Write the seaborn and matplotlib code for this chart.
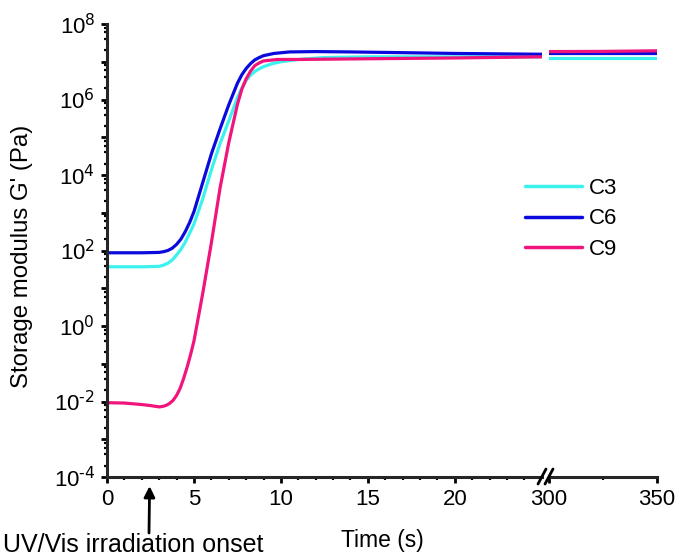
import numpy as np
import pandas as pd
import matplotlib
matplotlib.use("Agg")
import matplotlib.pyplot as plt
import matplotlib.ticker as mticker
from matplotlib.lines import Line2D
import seaborn as sns

sns.set_style("ticks")
plt.rcParams["font.family"] = ["Liberation Sans", "DejaVu Sans"]
plt.rcParams["mathtext.default"] = "regular"
plt.rcParams["axes.unicode_minus"] = False
plt.rcParams["text.color"] = "black"

# --- data: storage modulus G' (Pa) vs time (s) ---
# early part (0-25 s)
t_c3 = [0, 1, 2, 3, 3.25, 3.5, 3.75, 4, 4.25, 4.5, 5, 5.5, 6, 6.5, 7, 7.5, 7.75, 8, 8.25,
        8.5, 8.75, 9, 9.5, 10, 11, 12.5, 15, 20, 25]
g_c3 = [37, 37, 37, 38, 41, 46, 56, 76, 107, 166, 500, 2.3e3, 1.35e4, 6.8e4, 2.7e5, 1.12e6,
        2.0e6, 3.2e6, 4.4e6, 5.5e6, 6.5e6, 7.4e6, 8.9e6, 1.0e7, 1.15e7, 1.29e7, 1.35e7,
        1.35e7, 1.35e7]

t_c6 = [0, 1, 2, 3, 3.25, 3.5, 3.75, 4, 4.25, 4.5, 4.75, 5, 5.5, 6, 6.5, 7, 7.5, 7.75, 8,
        8.25, 8.5, 8.75, 9, 9.6, 10.5, 12, 14, 17, 20, 25]
g_c6 = [87, 87, 87, 89, 93, 100, 115, 145, 200, 316, 550, 1.07e3, 6.2e3, 3.6e4, 1.66e5,
        7.2e5, 2.7e6, 4.5e6, 6.6e6, 8.9e6, 1.12e7, 1.29e7, 1.45e7, 1.66e7, 1.82e7, 1.86e7,
        1.82e7, 1.74e7, 1.66e7, 1.58e7]

t_c9 = [0, 1, 2, 2.5, 3, 3.2, 3.4, 3.6, 3.8, 4, 4.2, 4.4, 4.6, 4.8, 5, 5.5, 6, 6.5, 7, 7.5,
        7.75, 8, 8.25, 8.5, 8.75, 9, 9.8, 11, 15, 20, 25]
g_c9 = [9.3e-3, 9.1e-3, 8.3e-3, 7.8e-3, 7.2e-3, 7.4e-3, 7.9e-3, 8.9e-3, 1.07e-2, 1.45e-2,
        2.2e-2, 4.0e-2, 7.9e-2, 0.17, 0.40, 7.1, 158, 4.5e3, 7.1e4, 7.4e5, 1.86e6, 3.5e6,
        5.6e6, 7.9e6, 9.3e6, 1.05e7, 1.15e7, 1.15e7, 1.2e7, 1.26e7, 1.35e7]

# late part (300-350 s)
t_late = [300, 325, 350]
g_c3_late = [1.29e7, 1.29e7, 1.29e7]
g_c6_late = [1.70e7, 1.70e7, 1.70e7]
g_c9_late = [1.86e7, 1.88e7, 1.95e7]

samples = ["C3", "C6", "C9"]
colors = {"C3": "#3CF2EE", "C6": "#0A0ADC", "C9": "#F0147C"}


def long_frame(parts):
    frames = [pd.DataFrame({"t": t, "G": g, "sample": s}) for s, t, g in parts]
    return pd.concat(frames, ignore_index=True)


def decade_label(v, pos):
    # label every second decade, with a plain hyphen for negative exponents
    e = int(round(np.log10(v)))
    return "$10^{\\text{%d}}$" % e if e % 2 == 0 else ""


df_early = long_frame([("C3", t_c3, g_c3), ("C6", t_c6, g_c6), ("C9", t_c9, g_c9)])
df_late = long_frame([("C3", t_late, g_c3_late), ("C6", t_late, g_c6_late),
                      ("C9", t_late, g_c9_late)])

W, H = 680, 556
fig = plt.figure(figsize=(W / 100, H / 100), dpi=100)
x0, x1, x2, x3 = 107, 541.75, 549, 657
y_bot, y_top = 477, 24
ax1 = fig.add_axes([x0 / W, 1 - y_bot / H, (x1 - x0) / W, (y_bot - y_top) / H])
ax2 = fig.add_axes([x2 / W, 1 - y_bot / H, (x3 - x2) / W, (y_bot - y_top) / H], sharey=ax1)

sns.lineplot(data=df_early, x="t", y="G", hue="sample", hue_order=samples, palette=colors,
             estimator=None, sort=False, linewidth=2.3, ax=ax1)
sns.lineplot(data=df_late, x="t", y="G", hue="sample", hue_order=samples, palette=colors,
             estimator=None, sort=False, linewidth=2.3, ax=ax2, legend=False)

ax1.set_yscale("log")
ax1.set_ylim(1e-4, 1e8)
ax1.set_xlim(0, 25)
ax2.set_xlim(300, 350)

ax1.yaxis.set_major_locator(mticker.LogLocator(base=10, numticks=30))
ax1.yaxis.set_major_formatter(mticker.FuncFormatter(decade_label))
ax1.yaxis.set_minor_locator(mticker.LogLocator(base=10, subs=(2, 4, 6, 8), numticks=30))
ax1.yaxis.set_minor_formatter(mticker.NullFormatter())

ax1.xaxis.set_major_locator(mticker.FixedLocator([0, 5, 10, 15, 20]))
ax1.xaxis.set_minor_locator(mticker.FixedLocator([i for i in range(1, 25) if i % 5]))
ax2.xaxis.set_major_locator(mticker.FixedLocator([300, 350]))
ax2.xaxis.set_minor_locator(mticker.FixedLocator([325]))

for ax in (ax1, ax2):
    ax.set_xlabel("")
    ax.set_ylabel("")
    ax.spines["top"].set_visible(False)
    ax.spines["right"].set_visible(False)
    ax.spines["bottom"].set_linewidth(2.2)
    ax.spines["left"].set_linewidth(2.2)
    ax.tick_params(which="major", length=4.5, width=2, direction="out", labelsize=16, pad=4,
                   color="black", labelcolor="black")
    ax.tick_params(which="minor", length=2.5, width=1.6, direction="out", color="black")
    ax.patch.set_alpha(0)

ax2.spines["left"].set_visible(False)
ax2.tick_params(axis="y", which="both", left=False, labelleft=False)

# legend
handles, labels = ax1.get_legend_handles_labels()
ax1.get_legend().remove()
for h in handles:
    h.set_linewidth(2.5)
fig.legend(handles, labels, loc="center left", bbox_to_anchor=(525 / W, 1 - 219 / H),
           frameon=False, fontsize=16, handlelength=2.57, handletextpad=0.3,
           labelspacing=0.43, borderpad=0, borderaxespad=0, labelcolor="black")

# axis break marks
for bx in (538, 545):
    fig.add_artist(Line2D([bx / W, (bx + 8) / W], [1 - 484 / H, 1 - 469 / H],
                          color="black", linewidth=2))

# labels
fig.text(22 / W, 1 - 256 / H, "Storage modulus G' (Pa)", rotation=90, ha="center",
         va="center", fontsize=17.3)
fig.text(382 / W, 1 - 541 / H, "Time (s)", ha="center", va="center", fontsize=16.5)
fig.text(3 / W, 1 - 552 / H, "UV/Vis irradiation onset", ha="left", va="baseline",
         fontsize=18)
ax1.annotate("", xy=(2.45, -0.02), xycoords=ax1.get_xaxis_transform(),
             xytext=(149 / W, 1 - 533 / H), textcoords="figure fraction",
             arrowprops=dict(arrowstyle="-|>", color="black", lw=2, mutation_scale=16,
                             shrinkA=0, shrinkB=0))

fig.savefig("out.png", dpi=100)
